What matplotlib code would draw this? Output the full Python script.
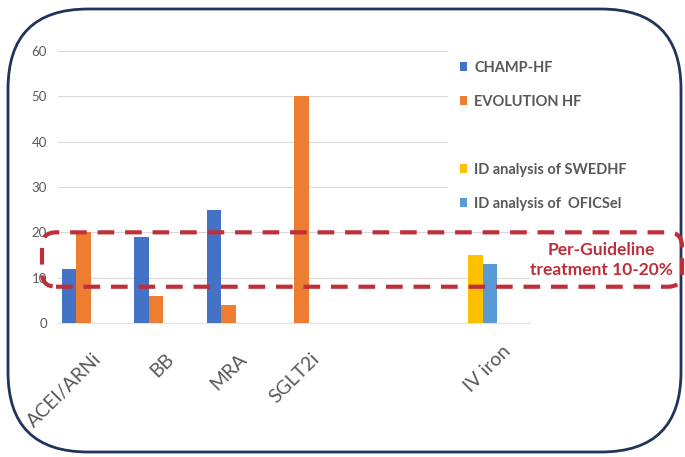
import numpy as np
import matplotlib
matplotlib.use('Agg')
import matplotlib.pyplot as plt
from matplotlib.patches import FancyBboxPatch, Patch
from matplotlib.transforms import IdentityTransform, ScaledTranslation

# Datos
categorias = ['ACEI/ARNi', 'BB', 'MRA', 'SGLT2i', 'IV iron']
champ_hf = [12, 19, 25, 0, 0]
evolution_hf = [20, 6, 4, 50, 0]
swedhf = [0, 0, 0, 0, 15]
oficsel = [0, 0, 0, 0, 13]
nombres_series = ['CHAMP-HF', 'EVOLUTION HF', 'ID analysis of SWEDHF', 'ID analysis of  OFICSel']
franja_guia = (8, 20)  # recuadro discontinuo
texto_guia = 'Per-Guideline\ntreatment 10-20%'
yticks = [0, 10, 20, 30, 40, 50, 60]

colores = ['#4472C4', '#ED7D31', '#FFC000', '#5B9BD5']
gris = '#595959'
rojo = '#BE2F3A'

plt.rcParams['font.family'] = ['Lato', 'DejaVu Sans']

W, H = 685, 457
fig = plt.figure(figsize=(W / 100, H / 100), dpi=100)
fig.patch.set_facecolor('white')

# eje en pixeles: izquierda 58, derecha 530, y=0 en 323, y=60 en 51
ax = fig.add_axes([58 / W, 1 - 323 / H, (530 - 58) / W, (323 - 51) / H])

x = np.arange(len(categorias), dtype=float)
x[-1] += 1.2  # hueco antes de IV iron

ancho = 0.2
desplaz = [-0.3, -0.1, 0.1, 0.3]
for valores, color, d, nombre in zip([champ_hf, evolution_hf, swedhf, oficsel], colores, desplaz, nombres_series):
    ax.bar(x + d, valores, width=ancho, color=color, label=nombre, zorder=3)

ax.set_xlim(-0.455, 6.055)
ax.set_ylim(0, 60)
ax.set_yticks(yticks)
ax.yaxis.grid(True, color='#D9D9D9', linewidth=0.8, zorder=0)
ax.set_axisbelow(True)
for s in ['top', 'right', 'left']:
    ax.spines[s].set_visible(False)
ax.spines['bottom'].set_color('#E3E3E3')
ax.tick_params(axis='y', length=0, pad=8, labelsize=9.5, labelcolor=gris)
ax.tick_params(axis='x', length=0, pad=24)

ax.set_xticks(x)
ax.set_xticklabels(categorias, rotation=45, ha='right', va='center',
                   rotation_mode='anchor', fontsize=14, color=gris)
for i, lab in enumerate(ax.get_xticklabels()):
    dx, dy = (8, 0) if i < len(categorias) - 1 else (40, 8)
    lab.set_transform(lab.get_transform() + ScaledTranslation(dx / 100, dy / 100, fig.dpi_scale_trans))

# leyenda con hueco entre los dos grupos
h = ax.get_legend_handles_labels()[0]
handles = [h[0], h[1], Patch(facecolor='none', edgecolor='none'), h[2], h[3]]
labels = [nombres_series[0], nombres_series[1], '', nombres_series[2], nombres_series[3]]
leg = ax.legend(handles, labels, loc='upper left', bbox_to_anchor=(448 / W, 1 - 49 / H),
                bbox_transform=fig.transFigure, frameon=True, facecolor='white',
                edgecolor='none', framealpha=1, fontsize=10.5, handlelength=0.5,
                handleheight=0.5, handletextpad=0.5, labelspacing=1.37,
                borderpad=0.8, borderaxespad=0)
for t in leg.get_texts():
    t.set_color(gris)
    t.set_fontweight('bold')
leg.set_zorder(5)

# recuadro discontinuo de la franja de la guía
fig.canvas.draw()
y_top = ax.transData.transform((0, franja_guia[1]))[1]
y_bot = ax.transData.transform((0, franja_guia[0]))[1]
caja = FancyBboxPatch((42, y_bot), 682 - 42, y_top - y_bot,
                      boxstyle='round,pad=0,rounding_size=14', transform=IdentityTransform(),
                      fill=False, edgecolor=rojo, linewidth=3, linestyle=(0, (4, 2.6)),
                      zorder=10)
fig.patches.append(caja)
fig.text(601 / W, 1 - 260 / H, texto_guia, ha='center', va='center', fontsize=12.5,
         fontweight='bold', color=rojo, linespacing=1.25)

# marco redondeado exterior
marco = FancyBboxPatch((8, 5), 681 - 8, 448 - 5,
                       boxstyle='round,pad=0,rounding_size=80', transform=IdentityTransform(),
                       fill=False, edgecolor='#22345A', linewidth=2)
fig.patches.append(marco)

fig.savefig('out.png', dpi=100)
